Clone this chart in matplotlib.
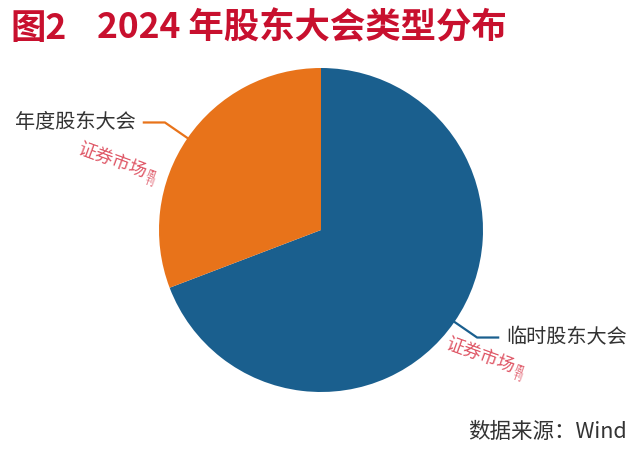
import numpy as np
import matplotlib
matplotlib.use("Agg")
import matplotlib.pyplot as plt

plt.rcParams['font.family'] = ['Noto Sans CJK SC', 'DejaVu Sans']

# données (%)
categories = ["临时股东大会", "年度股东大会"]
parts = [69.2, 30.8]
couleurs = ["#1a5f8e", "#e8731a"]

fig = plt.figure(figsize=(6.36, 4.61), dpi=100)
W, H = 636, 461
cx, cy, r = 321, 230, 162
ax = fig.add_axes([(cx - r) / W, (H - cy - r) / H, 2 * r / W, 2 * r / H])

wedges, _ = ax.pie(parts, colors=couleurs, startangle=90, counterclock=False,
                   radius=1.0)
ax.set_xlim(-1, 1)
ax.set_ylim(-1, 1)
ax.set_aspect('equal')
ax.axis('off')

# lignes de rappel + étiquettes
for w, lab, col in zip(wedges, categories, couleurs):
    ang = np.deg2rad((w.theta1 + w.theta2) / 2)
    x0, y0 = np.cos(ang), np.sin(ang)
    x1, y1 = 1.17 * x0, 1.17 * y0
    sens = 1 if x0 > 0 else -1
    x2 = x1 + sens * 0.13
    ax.plot([x0, x1, x2], [y0, y1, y1], color=col, lw=1.6, clip_on=False)
    ax.text(x2 + sens * 0.05, y1, lab, ha='left' if sens > 0 else 'right',
            va='center', fontsize=14.5, color='#333333')

# titre
fig.text(10 / W, 1 - 28 / H, "图2", fontsize=25.5,
         fontweight='bold', color='#c8102e', va='center', ha='left')
fig.text(97 / W, 1 - 28 / H, "2024 年股东大会类型分布", fontsize=25.5,
         fontweight='bold', color='#c8102e', va='center', ha='left')

# source
fig.text(627 / W, 1 - 432 / H, "数据来源：Wind", fontsize=15.5, color='#333333',
         va='center', ha='right')

# filigranes
for (px, py) in [(112, 160), (480, 355)]:
    fig.text(px / W, 1 - py / H, "证券市场", fontsize=13, color='#d9384a',
             rotation=-20, ha='center', va='center', alpha=0.85)
    fig.text((px + 38) / W, 1 - (py + 18) / H, "周\n刊", fontsize=6.5,
             color='#d9384a', rotation=-20, ha='center', va='center',
             alpha=0.85, linespacing=0.9)

fig.savefig("out.png", dpi=100)
